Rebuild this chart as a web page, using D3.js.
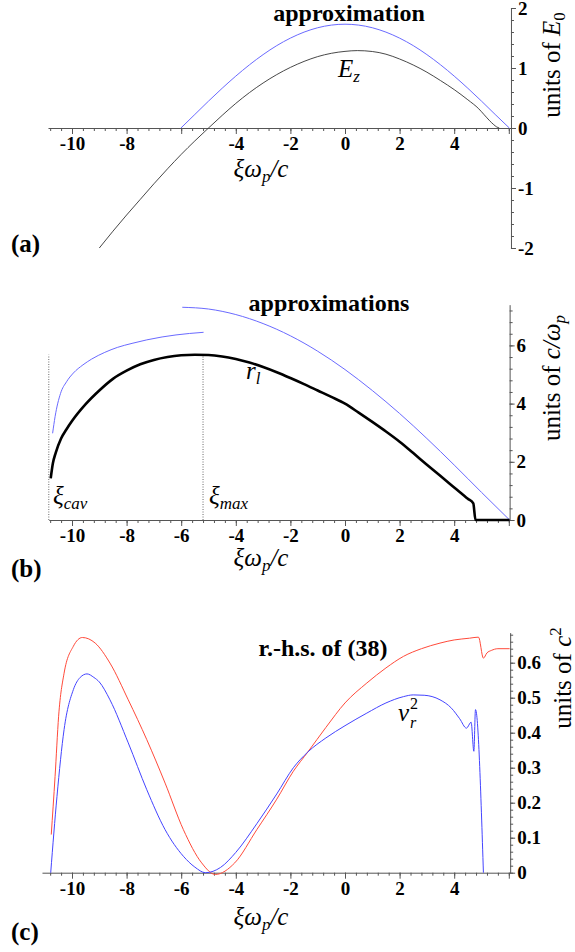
<!DOCTYPE html>
<html>
<head>
<meta charset="utf-8">
<script src="https://cdn.jsdelivr.net/npm/d3@7"></script>
<style>
  body { margin: 0; background: #fff; }
</style>
</head>
<body>
<svg id="fig" width="575" height="952"></svg>
<script>

// ---------- data ----------

// panel (a): E_z and its approximation, units of E0
var ezXi  = [-9.0,-8.5,-8.0,-7.5,-7.0,-6.5,-6.0,-5.5,-5.0,-4.5,-4.0,-3.5,-3.0,-2.5,-2.0,-1.5,-1.0,-0.5,0,0.45,1.0,1.5,2.0,2.5,3.0,3.5,4.0,4.5,4.9,5.1,5.3,5.45,5.55,5.65];
var ezVal = [-2.0,-1.72,-1.45,-1.19,-0.93,-0.68,-0.44,-0.215,0.0,0.21,0.41,0.59,0.75,0.89,1.01,1.11,1.19,1.245,1.277,1.29,1.275,1.23,1.15,1.05,0.93,0.79,0.64,0.47,0.32,0.22,0.12,0.055,0.02,0.0];
var ezApproxXi  = [-6.01,-5.5,-5.0,-4.5,-4.0,-3.5,-3.0,-2.5,-2.0,-1.5,-1.0,-0.5,0,0.5,1.0,1.5,2.0,2.5,3.0,3.5,4.0,4.5,5.0,5.5,6.02];
var ezApproxVal = [0,0.226,0.448,0.662,0.865,1.053,1.223,1.373,1.498,1.598,1.671,1.715,1.73,1.715,1.671,1.598,1.498,1.373,1.223,1.053,0.865,0.662,0.448,0.226,0];
var ticksA = [-10,-8,-4,-2,0,2,4];   // -6 has no label in the original
var yTicksA = [-2,-1,0,1,2];

// panel (b): r_l and the two approximations, units of c/wp
var rlXi  = [-10.78,-10.7,-10.6,-10.4,-10.2,-10.0,-9.5,-9.0,-8.5,-8.0,-7.5,-7.0,-6.5,-6.0,-5.5,-5.0,-4.5,-4.0,-3.5,-3.0,-2.5,-2.0,-1.5,-1.0,-0.5,0,0.5,1.0,1.5,2.0,2.5,3.0,3.5,4.0,4.5,4.7,4.78,6.03];
var rlVal = [1.43,1.95,2.3,2.8,3.12,3.4,3.98,4.45,4.85,5.13,5.35,5.5,5.6,5.66,5.68,5.67,5.62,5.53,5.41,5.26,5.08,4.88,4.67,4.45,4.23,4.0,3.69,3.37,3.04,2.69,2.3,1.9,1.51,1.12,0.73,0.57,0,0];
var rlLowXi  = [-10.71,-10.62,-10.42,-10.2,-9.95,-9.6,-9.28,-8.8,-8.34,-7.8,-7.26,-6.7,-6.19,-5.7,-5.18];
var rlLowVal = [2.98,3.55,4.35,4.75,5.05,5.33,5.53,5.76,5.93,6.07,6.19,6.29,6.36,6.41,6.45];
var rlHighXi  = [-5.96,-5.0,-4.0,-3.0,-2.0,-1.0,0,1.0,2.0,3.0,4.0,5.0,6.03];
var rlHighVal = [7.31,7.25,7.06,6.75,6.33,5.8,5.17,4.45,3.66,2.8,1.89,0.95,0];
var xiCav = -10.85, xiMax = -5.2, rMax = 5.68;
var ticksB = [-10,-8,-6,-4,-2,0,2,4];
var yTicksB = [0,2,4,6];

// panel (c): r.-h.s. of (38) and v_r^2, units of c^2
var rhsXi  = [-10.76,-10.62,-10.49,-10.29,-9.95,-9.62,-9.15,-8.61,-7.94,-7.26,-6.59,-5.92,-5.25,-4.75,-4.04,-3.23,-2.5,-1.89,-1.36,-0.7,0,0.8,1.5,2.14,2.8,3.48,4.0,4.56,4.89,5.07,5.2,5.36,5.6,6.03];
var rhsVal = [0.109,0.275,0.447,0.57,0.647,0.672,0.656,0.599,0.494,0.38,0.256,0.123,0.028,-0.005,0.028,0.123,0.21,0.29,0.345,0.415,0.485,0.542,0.585,0.618,0.64,0.656,0.665,0.67,0.673,0.613,0.628,0.635,0.64,0.64];
var vr2Xi  = [-10.78,-10.55,-10.29,-9.95,-9.7,-9.45,-9.2,-9.0,-8.61,-7.94,-7.26,-6.59,-5.92,-5.5,-5.11,-4.56,-4.0,-3.23,-2.5,-1.89,-1.36,-0.7,0,0.8,1.5,2.14,2.5,2.9,3.48,3.9,4.2,4.45,4.62,4.72,4.78,5.07];
var vr2Val = [0,0.218,0.409,0.523,0.558,0.568,0.558,0.545,0.494,0.371,0.237,0.123,0.047,0.016,0,0.015,0.058,0.14,0.225,0.30,0.345,0.385,0.42,0.456,0.485,0.503,0.508,0.507,0.494,0.47,0.44,0.413,0.43,0.347,0.466,0];
var ticksC = [-10,-8,-6,-4,-2,0,2,4];
var yTicksC = [0,0.1,0.2,0.3,0.4,0.5,0.6];

// ---------- layout ----------
// no generic family at the end: here "serif" maps to a sans face, the default face is Times-like
var SERIF = "'Liberation Serif', 'Times New Roman', Times";
var X0 = 345, K = 27.3;   // pixel of xi=0 and pixels per unit, shared by the three panels
function xScale(lo, hi) {
  return d3.scaleLinear().domain([lo, hi]).range([X0 + lo * K, X0 + hi * K]);
}
var svg = d3.select("#fig").style("font-family", SERIF);
var zip = function(a, b) { return a.map(function(v, i) { return [v, b[i]]; }); };

function near(v, step) { return Math.abs(v / step - Math.round(v / step)) < 1e-6; }

// start a text element with the serif font set directly on it
function txt(g, x, y, size) {
  return g.append("text").attr("x", x).attr("y", y)
    .style("font-family", SERIF).style("font-size", size + "px");
}

function drawAxes(g, xs, ys, xLabels, yMinor, yMajor, yLabels, yFmt) {
  var y0 = ys(0), xr = xs.range()[1];
  var xMinor = d3.range(-27, 16).map(function(i) { return +(i * 0.4).toFixed(2); })
    .filter(function(v) { return v >= xs.domain()[0] && v <= xs.domain()[1]; });
  var xMajor = xMinor.filter(function(v) { return near(v, 2); });

  var gx = g.append("g").attr("transform", "translate(0," + y0 + ")");
  gx.call(d3.axisBottom(xs).tickValues(xMinor).tickSize(3).tickSizeOuter(0).tickFormat(""));
  gx.append("g").call(d3.axisBottom(xs).tickValues(xMajor).tickSize(6).tickSizeOuter(0)
      .tickFormat(function(d) { return xLabels.indexOf(d) >= 0 ? String(d) : ""; }))
    .select(".domain").remove();

  var gy = g.append("g").attr("transform", "translate(" + xr + ",0)");
  gy.call(d3.axisRight(ys).tickValues(yMinor).tickSize(3).tickSizeOuter(0).tickFormat(""));
  gy.append("g").call(d3.axisRight(ys).tickValues(yMajor).tickSize(5).tickSizeOuter(0)
      .tickFormat(function(d) { return yLabels.indexOf(d) >= 0 ? yFmt(d) : ""; }))
    .select(".domain").remove();

  g.selectAll(".domain, .tick line").attr("stroke", "#555").attr("stroke-width", 1);
  g.selectAll(".tick text").attr("fill", "#000")
    .style("font-family", SERIF).style("font-weight", "bold").style("font-size", "19px");
  gy.selectAll(".tick text").attr("x", 7);
}

function curve(g, xs, ys, pts, color, w) {
  g.append("path").datum(pts)
    .attr("fill", "none").attr("stroke", color).attr("stroke-width", w)
    .attr("stroke-linejoin", "round")
    .attr("d", d3.line().x(function(d) { return xs(d[0]); }).y(function(d) { return ys(d[1]); })
      .curve(d3.curveMonotoneX));
}

// xi w_p / c  axis title
function xiTitle(g, x, y) {
  var t = txt(g, x, y, 25).attr("text-anchor", "middle").style("font-style", "italic");
  t.append("tspan").text("ξω");
  t.append("tspan").style("font-size", "17px").attr("dy", 5).text("p");
  t.append("tspan").attr("dy", -5).text("/c");
}

function panelLabel(g, s, x, y) {
  txt(g, x, y, 25).style("font-weight", "bold").text(s);
}

function boldNote(g, s, x, y) {
  txt(g, x, y, 24).attr("text-anchor", "middle").style("font-weight", "bold").text(s);
}

// symbol with a subscript, e.g. E_z
function subSym(g, x, y, main, sub) {
  var t = txt(g, x, y, 25).style("font-style", "italic");
  t.append("tspan").text(main);
  t.append("tspan").style("font-size", "17px").attr("dy", 5).text(sub);
  return t;
}

// ======== panel (a) ========
(function() {
  var g = svg.append("g");
  var xs = xScale(-10.88, 6.08);
  var ys = d3.scaleLinear().domain([-2, 2]).range([248, 8]);
  drawAxes(g, xs, ys, ticksA, d3.range(-10, 11).map(function(i) { return i / 5; }), yTicksA, yTicksA, String);
  curve(g, xs, ys, zip(ezApproxXi, ezApproxVal), "#6a6aff", 1);
  curve(g, xs, ys, zip(ezXi, ezVal), "#333", 0.9);

  boldNote(g, "approximation", 349, 21);
  subSym(g, 338, 77, "E", "z");

  xiTitle(g, 261, 177);
  panelLabel(g, "(a)", 11, 252);

  var u = txt(g, 0, 0, 25).attr("transform", "translate(560,65) rotate(-90)").attr("text-anchor", "middle");
  u.append("tspan").text("units of ");
  u.append("tspan").style("font-style", "italic").text("E");
  u.append("tspan").style("font-size", "17px").attr("dy", 5).text("0");
})();

// ======== panel (b) ========
(function() {
  var g = svg.append("g");
  var xs = xScale(-10.85, 6.03);
  var ys = d3.scaleLinear().domain([0, 7.4]).range([520, 520 - 7.4 * 29.1]);
  drawAxes(g, xs, ys, ticksB, d3.range(0, 19).map(function(i) { return +(i * 0.4).toFixed(2); }), yTicksB, yTicksB, String);

  [xiCav, xiMax].forEach(function(v) {
    g.append("line").attr("x1", xs(v)).attr("x2", xs(v)).attr("y1", ys(0)).attr("y2", ys(rMax))
      .attr("stroke", "#444").attr("stroke-width", 0.8).attr("stroke-dasharray", "1,1.5");
  });

  curve(g, xs, ys, zip(rlHighXi, rlHighVal), "#6a6aff", 1);
  curve(g, xs, ys, zip(rlLowXi, rlLowVal), "#6a6aff", 1);
  curve(g, xs, ys, zip(rlXi, rlVal), "#000", 2.6);

  boldNote(g, "approximations", 329, 311);
  subSym(g, 246, 379, "r", "l");
  subSym(g, 53, 504, "ξ", "cav");
  subSym(g, 209, 504, "ξ", "max");

  xiTitle(g, 261, 566);
  panelLabel(g, "(b)", 11, 577);

  var u = txt(g, 0, 0, 25).attr("transform", "translate(560,378) rotate(-90)").attr("text-anchor", "middle");
  u.append("tspan").text("units of ");
  u.append("tspan").style("font-style", "italic").text("c/ω");
  u.append("tspan").style("font-style", "italic").style("font-size", "17px").attr("dy", 5).text("p");
})();

// ======== panel (c) ========
(function() {
  var g = svg.append("g");
  var xs = xScale(-11.1, 6.05);
  var ys = d3.scaleLinear().domain([0, 0.686]).range([872.7, 872.7 - 0.686 * 350]);
  var fmt = function(d) { return d === 0 ? "0" : d3.format(".1f")(d); };
  drawAxes(g, xs, ys, ticksC, d3.range(0, 35).map(function(i) { return +(i * 0.02).toFixed(2); }), yTicksC, yTicksC, fmt);

  curve(g, xs, ys, zip(rhsXi, rhsVal), "#ff4a3a", 1);
  curve(g, xs, ys, zip(vr2Xi, vr2Val), "#4444ff", 1);

  boldNote(g, "r.-h.s. of (38)", 323, 656);

  // v_r^2 : superscript and subscript stacked after the v
  txt(g, 398, 721, 25).style("font-style", "italic").text("v");
  txt(g, 410, 709, 16).text("2");
  txt(g, 410, 728, 16).style("font-style", "italic").text("r");

  xiTitle(g, 261, 925);
  panelLabel(g, "(c)", 11, 940);

  var u = txt(g, 0, 0, 25).attr("transform", "translate(571,678) rotate(-90)").attr("text-anchor", "middle");
  u.append("tspan").text("units of ");
  u.append("tspan").style("font-style", "italic").text("c");
  u.append("tspan").style("font-size", "17px").attr("dy", -10).text("2");
})();

</script>
</body>
</html>
